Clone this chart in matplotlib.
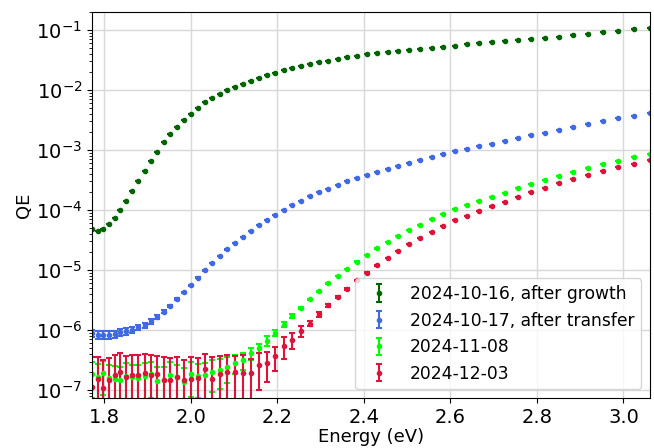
import numpy as np
import matplotlib
matplotlib.use("Agg")
import matplotlib.pyplot as plt

# wavelength scan 700 -> 405 nm in 5 nm steps
wavelength_nm = np.arange(700, 400, -5)
energy = 1239.84 / wavelength_nm

qe_growth = [4.77e-5, 4.47e-5, 4.88e-5, 5.78e-5, 7.44e-5, 1.00e-4, 1.41e-4, 2.07e-4, 3.04e-4, 4.52e-4,
             6.56e-4, 9.37e-4, 1.34e-3, 1.83e-3, 2.42e-3, 3.13e-3, 4.03e-3, 5.01e-3, 6.24e-3, 7.27e-3,
             8.58e-3, 9.89e-3, 1.12e-2, 1.27e-2, 1.43e-2, 1.58e-2, 1.76e-2, 1.94e-2, 2.13e-2, 2.30e-2,
             2.48e-2, 2.71e-2, 2.90e-2, 3.08e-2, 3.29e-2, 3.51e-2, 3.69e-2, 3.94e-2, 4.19e-2, 4.35e-2,
             4.47e-2, 4.64e-2, 4.82e-2, 5.01e-2, 5.21e-2, 5.47e-2, 5.78e-2, 6.00e-2, 6.24e-2, 6.48e-2,
             6.81e-2, 7.00e-2, 7.36e-2, 7.73e-2, 8.16e-2, 8.58e-2, 9.16e-2, 9.73e-2, 1.03e-1, 1.09e-1]

qe_transfer = [9.02e-7, 8.35e-7, 8.35e-7, 8.35e-7, 8.48e-7, 9.16e-7, 9.62e-7, 1.01e-6, 1.12e-6, 1.21e-6,
               1.41e-6, 1.65e-6, 2.02e-6, 2.54e-6, 3.29e-6, 4.25e-6, 5.62e-6, 7.44e-6, 9.89e-6, 1.31e-5,
               1.71e-5, 2.21e-5, 2.79e-5, 3.59e-5, 4.47e-5, 5.56e-5, 6.89e-5, 8.41e-5, 1.01e-4, 1.20e-4,
               1.41e-4, 1.69e-4, 1.97e-4, 2.26e-4, 2.61e-4, 3.01e-4, 3.39e-4, 3.83e-4, 4.30e-4, 4.88e-4,
               5.47e-4, 6.14e-4, 6.81e-4, 7.64e-4, 8.48e-4, 9.51e-4, 1.04e-3, 1.15e-3, 1.27e-3, 1.41e-3,
               1.58e-3, 1.76e-3, 1.94e-3, 2.18e-3, 2.44e-3, 2.71e-3, 3.01e-3, 3.37e-3, 3.69e-3, 4.09e-3]

qe_nov = [1.85e-7, 1.66e-7, 1.94e-7, 1.60e-7, 1.53e-7, 1.47e-7, 1.71e-7, 1.63e-7, 1.58e-7, 1.71e-7,
          1.85e-7, 1.41e-7, 1.45e-7, 1.80e-7, 1.67e-7, 1.38e-7, 1.88e-7, 1.75e-7, 1.76e-7, 2.02e-7,
          2.16e-7, 2.42e-7, 2.85e-7, 3.16e-7, 4.09e-7, 5.01e-7, 6.64e-7, 9.02e-7, 1.24e-6, 1.73e-6,
          2.35e-6, 3.25e-6, 4.47e-6, 6.00e-6, 7.94e-6, 1.05e-5, 1.39e-5, 1.78e-5, 2.30e-5, 2.93e-5,
          3.69e-5, 4.64e-5, 5.69e-5, 7.00e-5, 8.58e-5, 1.03e-4, 1.21e-4, 1.41e-4, 1.67e-4, 1.94e-4,
          2.33e-4, 2.71e-4, 3.16e-4, 3.73e-4, 4.35e-4, 5.07e-4, 5.78e-4, 6.64e-4, 7.55e-4, 8.48e-4]

qe_dec = [1.14e-7, 1.53e-7, 1.07e-7, 1.47e-7, 1.81e-7, 2.00e-7, 1.65e-7, 1.81e-7, 1.81e-7, 1.94e-7,
          1.77e-7, 1.85e-7, 1.47e-7, 1.47e-7, 1.65e-7, 1.50e-7, 1.53e-7, 1.57e-7, 2.24e-7, 1.54e-7,
          1.85e-7, 2.00e-7, 2.00e-7, 1.90e-7, 1.90e-7, 2.61e-7, 2.85e-7, 3.69e-7, 5.41e-7, 6.81e-7,
          9.73e-7, 1.29e-6, 1.83e-6, 2.58e-6, 3.57e-6, 4.88e-6, 6.81e-6, 9.02e-6, 1.20e-5, 1.58e-5,
          2.07e-5, 2.71e-5, 3.42e-5, 4.30e-5, 5.47e-5, 6.81e-5, 8.04e-5, 9.62e-5, 1.15e-4, 1.37e-4,
          1.67e-4, 2.00e-4, 2.35e-4, 2.82e-4, 3.29e-4, 3.87e-4, 4.47e-4, 5.15e-4, 5.92e-4, 6.73e-4]

# error bars, in units of 1e-7
err_growth = [1.5] * 60
err_transfer = [1.2] * 60
err_nov = [1.1, 1.1, 1.1, 1.0, 1.0, 1.0, 1.1, 1.0, 1.0, 1.1,
           1.1, 1.0, 1.0, 1.1, 1.0, 1.0, 1.1, 1.0, 1.1, 1.1,
           1.1, 1.1, 1.0, 1.0, 0.9, 0.9, 1.2, 1.1, 1.1, 1.1] + [1.0] * 30
err_dec = [2.4, 2.0, 2.1, 2.0, 2.0, 2.1, 2.1, 2.0, 2.0, 2.1,
           2.1, 1.9, 2.1, 2.0, 1.9, 1.7, 2.0, 1.85, 1.75, 2.0,
           1.9, 1.8, 1.75, 1.9, 1.4, 1.6, 1.5, 1.6, 2.15, 2.0,
           1.9, 1.4, 1.5] + [1.5] * 27

labels = ["2024-10-16, after growth", "2024-10-17, after transfer", "2024-11-08", "2024-12-03"]
colors = ["darkgreen", "royalblue", "lime", "crimson"]

fig = plt.figure(figsize=(6.54, 4.48), dpi=100)
ax = fig.add_axes([0.1407, 0.1116, 0.8532, 0.8616])

series = [qe_growth, qe_transfer, qe_nov, qe_dec]
errors = [err_growth, err_transfer, err_nov, err_dec]
for qe, err, lab, col in zip(series, errors, labels, colors):
    ax.errorbar(energy, qe, yerr=np.array(err) * 1e-7, fmt='o', ms=3, color=col,
                elinewidth=1.5, capsize=2.5, capthick=1.5, label=lab)

ax.set_yscale('log')
ax.set_xlim(energy.min(), energy.max())
ax.set_ylim(7.4e-8, 0.2)
ax.set_xticks([1.8, 2.0, 2.2, 2.4, 2.6, 2.8, 3.0])
ax.tick_params(labelsize=14)
ax.grid(True, color='#d8d8d8', linewidth=1)
ax.set_axisbelow(True)
ax.set_xlabel('Energy (eV)', fontsize=13, labelpad=1)
ax.set_ylabel('QE', fontsize=13, labelpad=2)
ax.legend(loc='lower right', fontsize=12.3)

fig.savefig('out.png', dpi=100)
